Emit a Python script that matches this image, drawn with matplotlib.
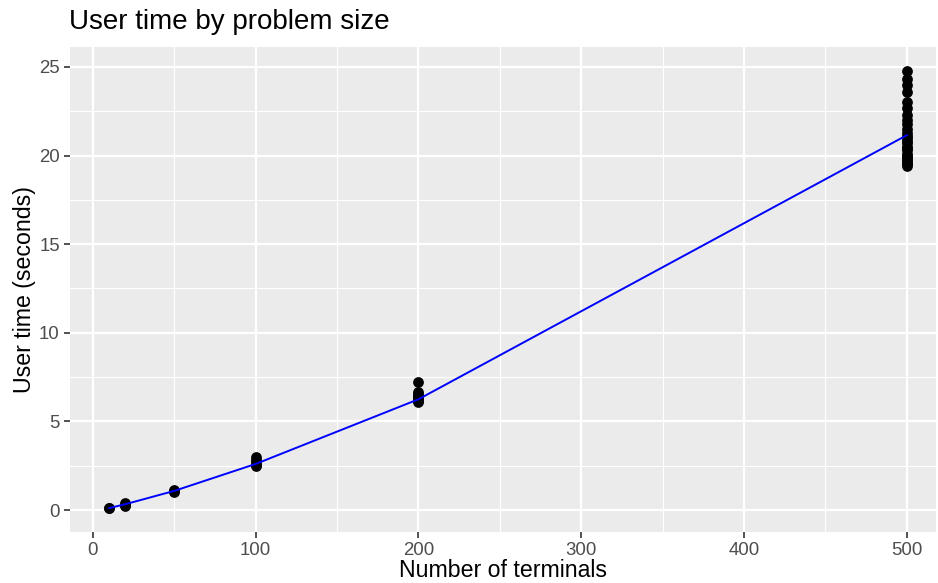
import matplotlib.pyplot as plt
from matplotlib.ticker import MultipleLocator
import numpy as np

plt.rcParams["font.family"] = ["Liberation Sans", "DejaVu Sans"]

# observed runs per problem size
sizes = [10, 10, 20, 20, 20, 50, 50, 50,
         100, 100, 100, 100, 100,
         200, 200, 200, 200, 200, 200, 200, 200]
times = [0.1, 0.12, 0.4, 0.3, 0.25, 1.15, 1.05, 1.0,
         3.0, 2.85, 2.7, 2.55, 2.5,
         7.25, 6.65, 6.55, 6.45, 6.35, 6.25, 6.15, 6.1]
times_500 = [24.8, 24.3, 24.0, 23.6, 23.0, 22.7, 22.3, 22.0, 21.8, 21.5,
             21.3, 21.1, 21.0, 20.8, 20.7, 20.5, 20.4, 20.3, 20.1, 20.0,
             19.9, 19.8, 19.7, 19.6, 19.5, 19.4]

# fitted line
fit_x = [10, 20, 50, 100, 200, 500]
fit_y = [0.11, 0.33, 1.08, 2.6, 6.25, 21.15]

fig = plt.figure(figsize=(9.38, 5.83), dpi=100)
ax = fig.add_axes([0.0746, 0.0875, 0.9234, 0.832])
ax.set_facecolor("#EBEBEB")
for s in ax.spines.values():
    s.set_visible(False)

ax.xaxis.set_major_locator(MultipleLocator(100))
ax.xaxis.set_minor_locator(MultipleLocator(50))
ax.yaxis.set_major_locator(MultipleLocator(5))
ax.yaxis.set_minor_locator(MultipleLocator(2.5))
ax.grid(which="major", color="white", linewidth=1.6)
ax.grid(which="minor", color="white", linewidth=0.8)
ax.set_axisbelow(True)
ax.tick_params(which="minor", length=0)
ax.tick_params(which="major", length=4.3, width=1.2, color="#333333",
               labelcolor="#4D4D4D", labelsize=13.4, pad=3)

all_x = sizes + [500] * len(times_500)
all_y = times + times_500
ax.scatter(all_x, all_y, s=60, color="black", zorder=3, linewidths=0)
ax.plot(fit_x, fit_y, color="blue", linewidth=1.4, zorder=4)

ax.set_xlim(-14.1, 518)
ax.set_ylim(-1.24, 26.13)
ax.set_xlabel("Number of terminals", fontsize=16.7, labelpad=0)
ax.set_ylabel("User time (seconds)", fontsize=16.7, labelpad=2.5)
ax.set_title("User time by problem size", fontsize=20, loc="left",
             x=-0.001, pad=13)

fig.savefig("out.png", dpi=100)
